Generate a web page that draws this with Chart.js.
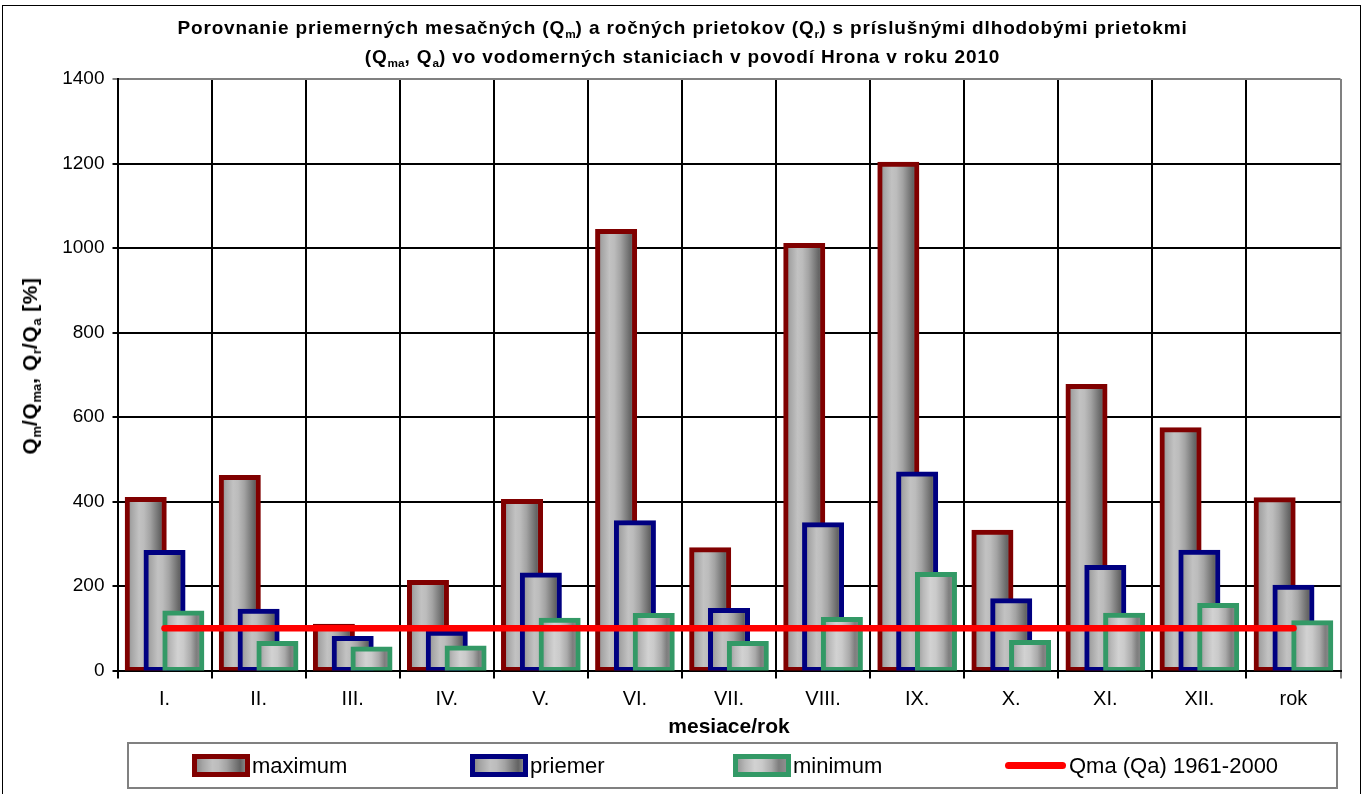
<!DOCTYPE html>
<html lang="sk">
<head>
<meta charset="utf-8">
<title>Porovnanie prietokov – povodie Hrona 2010</title>
<script src="https://cdn.jsdelivr.net/npm/chart.js@4.4.1/dist/chart.umd.min.js"></script>
<style>
  html, body { margin: 0; padding: 0; background: #fff; }
  body { width: 1365px; height: 794px; position: relative; overflow: hidden;
         font-family: "Liberation Sans", Arial, sans-serif; color: #000; }
  #frame { position: absolute; left: 2px; top: 5px; width: 1359px; height: 900px;
           border: 1px solid #000; box-sizing: border-box; }
  #c { position: absolute; left: 0; top: 0; }
  #title { position: absolute; left: 0; top: 13px; width: 1365px; text-align: center;
           font-weight: bold; font-size: 19px; letter-spacing: 0.85px; line-height: 29px; }
  sub { font-size: 0.62em; vertical-align: -0.3em; line-height: 0; letter-spacing: 0; }
  #ytitle { position: absolute; left: 30px; top: 366px; white-space: nowrap;
            transform: translate(-50%, -50%) rotate(-90deg);
            font-weight: bold; font-size: 21px; letter-spacing: 0.6px; }
  #legend { position: absolute; left: 127px; top: 742px; width: 1211px; height: 47px;
            border: 2px solid #808080; box-sizing: border-box; }
  .item { position: absolute; top: 0; height: 43px; display: flex; align-items: center;
          font-size: 22px; white-space: nowrap; }
  .sw { width: 58px; height: 23px; box-sizing: border-box; border: 5px solid; margin-right: 2px;
        background: linear-gradient(to right, #8c8c8c 0%, #a6a6a6 12%, #c2c2c2 32%, #bcbcbc 45%,
                    #a3a3a3 62%, #7a7a7a 80%, #636363 90%, #858585 100%); }
  .sw.light { background: linear-gradient(to right, #9a9a9a 0%, #b8b8b8 15%, #d2d2d2 35%, #cacaca 50%,
                    #aaaaaa 70%, #7e7e7e 85%, #8e8e8e 100%); }
  .ln { width: 61px; height: 7px; border-radius: 4px; background: #ff0000; margin-right: 3px; }
</style>
</head>
<body>
<div id="frame"></div>
<canvas id="c" width="1365" height="794"></canvas>
<div id="title">Porovnanie priemerných mesačných (Q<sub>m</sub>) a ročných prietokov (Q<sub>r</sub>) s príslušnými dlhodobými prietokmi<br>(Q<sub>ma</sub>, Q<sub>a</sub>) vo vodomerných staniciach v povodí Hrona v roku 2010</div>
<div id="ytitle">Q<sub>m</sub>/Q<sub>ma</sub>, Q<sub>r</sub>/Q<sub>a</sub> [%]</div>
<div id="legend">
  <div class="item" style="left:63px"><span class="sw" style="border-color:#800000"></span>maximum</div>
  <div class="item" style="left:341px"><span class="sw" style="border-color:#000080"></span>priemer</div>
  <div class="item" style="left:604px"><span class="sw light" style="border-color:#339966"></span>minimum</div>
  <div class="item" style="left:876px"><span class="ln"></span>Qma (Qa) 1961-2000</div>
</div>
<script>
// Months and the whole year
const categories = ['I.', 'II.', 'III.', 'IV.', 'V.', 'VI.', 'VII.', 'VIII.', 'IX.', 'X.', 'XI.', 'XII.', 'rok'];

// Ratios of discharge to the long-term discharge [%] across the gauging stations
const maximum = [405, 457, 105, 208, 400, 1039, 286, 1006, 1198, 327, 672, 570, 404];
const priemer = [279, 140, 76, 88, 226, 350, 142, 345, 465, 165, 244, 280, 197];
const minimum = [136, 64, 51, 53, 119, 130, 64, 121, 227, 66, 131, 154, 113];

// Long-term reference level Qma (Qa) 1961-2000
const qmaLevel = [100, 100, 100, 100, 100, 100, 100, 100, 100, 100, 100, 100, 100];

// Value axis ticks
const yTicks = [0, 200, 400, 600, 800, 1000, 1200, 1400];

const FONT = '"Liberation Sans", Arial, sans-serif';
const BAR = 37;          // bar body width in px
const INFLATE = 2.5;     // lets the border straddle the bar edge
const SHIFT = 0.2;       // side offset of the overlapping bars, in category units

const darkStops = [[0, '#8c8c8c'], [0.12, '#a6a6a6'], [0.32, '#c2c2c2'], [0.45, '#bcbcbc'],
                   [0.62, '#a3a3a3'], [0.8, '#7a7a7a'], [0.9, '#636363'], [1, '#858585']];
const lightStops = [[0, '#9a9a9a'], [0.15, '#b8b8b8'], [0.35, '#d2d2d2'], [0.5, '#cacaca'],
                    [0.7, '#aaaaaa'], [0.85, '#7e7e7e'], [1, '#8e8e8e']];

// Horizontal "cylinder" shading, anchored to each bar's own position on the scale
function cylinder(stops) {
  return (ctx) => {
    const chart = ctx.chart;
    const sc = chart.scales.xb;
    if (!sc || !ctx.raw) return '#aaaaaa';
    const cx = sc.getPixelForValue(ctx.raw.x);
    if (!Number.isFinite(cx)) return '#aaaaaa';
    const g = chart.ctx.createLinearGradient(cx - BAR / 2, 0, cx + BAR / 2, 0);
    stops.forEach(([o, c]) => g.addColorStop(o, c));
    return g;
  };
}

function barSet(label, values, shift, color, stops, order) {
  return {
    type: 'bar',
    label,
    data: values.map((v, i) => ({ x: i + shift, y: v })),
    xAxisID: 'xb',
    yAxisID: 'y',
    grouped: false,
    barThickness: BAR,
    inflateAmount: INFLATE,
    borderWidth: 5,
    borderSkipped: false,
    borderColor: color,
    backgroundColor: cylinder(stops),
    order
  };
}

const chart = new Chart(document.getElementById('c'), {
  type: 'bar',
  data: {
    labels: categories,
    datasets: [
      {
        type: 'line',
        label: 'Qma (Qa) 1961-2000',
        data: qmaLevel.map((v, i) => ({ x: i, y: v })),
        xAxisID: 'xb',
        yAxisID: 'y',
        borderColor: '#ff0000',
        borderWidth: 6.5,
        borderCapStyle: 'round',
        pointRadius: 0,
        tension: 0,
        fill: false,
        order: 0
      },
      barSet('minimum', minimum, SHIFT, '#339966', lightStops, 1),
      barSet('priemer', priemer, 0, '#000080', darkStops, 2),
      barSet('maximum', maximum, -SHIFT, '#800000', darkStops, 3)
    ]
  },
  options: {
    responsive: false,
    animation: false,
    devicePixelRatio: 1,
    layout: { padding: { top: 79, right: 24.5, bottom: 53.5, left: 0 } },
    plugins: {
      legend: { display: false },
      tooltip: { enabled: false },
      title: { display: false }
    },
    events: [],
    scales: {
      x: {
        type: 'category',
        position: 'bottom',
        offset: true,
        grid: {
          offset: true,
          color: (c) => (c.tick ? '#000' : '#808080'),
          lineWidth: 2,
          tickLength: 8
        },
        border: { color: '#000', width: 2 },
        ticks: { color: '#000', font: { family: FONT, size: 20 }, padding: 9,
                 maxRotation: 0, autoSkip: false },
        title: { display: true, text: 'mesiace/rok', color: '#000',
                 font: { family: FONT, size: 21, weight: 'bold' }, padding: { top: 0, bottom: 1 } },
        afterFit: (s) => { s.height = 70; }
      },
      xb: {
        type: 'linear',
        position: 'bottom',
        display: false,
        min: -0.5,
        max: 12.5,
        offset: false
      },
      y: {
        type: 'linear',
        position: 'left',
        min: yTicks[0],
        max: yTicks[yTicks.length - 1],
        ticks: { stepSize: yTicks[1] - yTicks[0], color: '#000',
                 font: { family: FONT, size: 19 }, padding: 8,
                 callback: (v) => String(v) },
        grid: {
          color: (c) => (c.tick && c.tick.value === yTicks[yTicks.length - 1] ? '#808080' : '#000'),
          lineWidth: 2,
          tickLength: 5
        },
        border: { color: '#000', width: 2 },
        afterFit: (s) => { s.width = 117.5; }
      }
    }
  }
});
chart.update('none');
</script>
</body>
</html>
